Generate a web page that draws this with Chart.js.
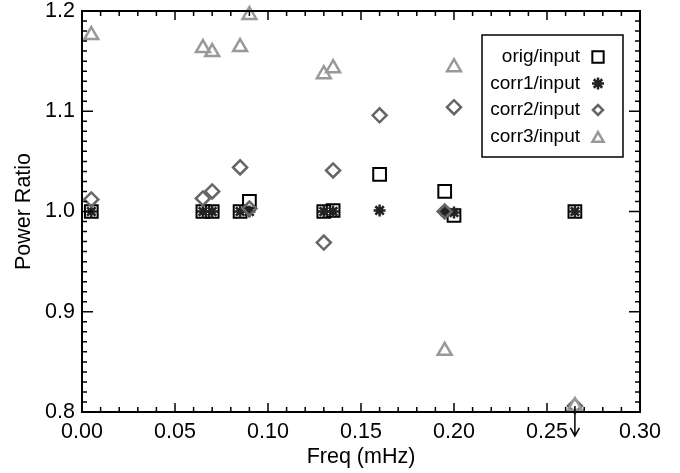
<!DOCTYPE html>
<html>
<head>
<meta charset="utf-8">
<script src="https://cdn.jsdelivr.net/npm/chart.js@4.4.1/dist/chart.umd.min.js"></script>
<style>
  html, body { margin: 0; padding: 0; background: #fff; }
  #wrap { width: 680px; height: 473px; }
</style>
</head>
<body>
<div id="wrap"><canvas id="chart-ratio" width="680" height="473"></canvas></div>
<script>
const freq = [0.005, 0.065, 0.070, 0.085, 0.090, 0.130, 0.135, 0.160, 0.195, 0.200, 0.265];
const origRatio  = [1.000, 1.000, 1.000, 1.000, 1.010, 1.000, 1.001, 1.037, 1.020, 0.996, 1.000];
const corr1Ratio = [1.000, 1.000, 1.000, 1.000, 1.000, 1.000, 1.000, 1.001, 1.000, 0.999, 1.000];
const corr2Ratio = [1.012, 1.013, 1.020, 1.044, 1.003, 0.969, 1.041, 1.096, 1.000, 1.104, 0.806];
const corr3Ratio = [1.176, 1.163, 1.159, 1.164, 1.196, 1.137, 1.143, null, 0.861, 1.144, 0.806];
const seriesLabels = ["orig/input", "corr1/input", "corr2/input", "corr3/input"];
// points that are upper limits (value below the plotted range)
const limitFreq = [0.265];
const limitRatio = [0.806];

const FONT = "'Liberation Sans', Arial, Helvetica, sans-serif";

function pts(ys) {
  return freq.map((f, i) => ({ x: f, y: ys[i] })).filter(p => p.y !== null);
}

// IDL-style frame: box on all four sides with inward major/minor ticks
const framePlugin = {
  id: "frame",
  afterDraw(chart) {
    const { ctx, chartArea: a, scales } = chart;
    const xs = scales.x, ys = scales.y;
    ctx.save();
    ctx.strokeStyle = "#000";
    ctx.lineWidth = 1.5;
    ctx.beginPath();
    for (let k = 0; k <= 30; k++) {
      const px = xs.getPixelForValue(k / 100);
      const len = k % 5 === 0 ? 9 : 5;
      ctx.moveTo(px, a.bottom); ctx.lineTo(px, a.bottom - len);
      ctx.moveTo(px, a.top); ctx.lineTo(px, a.top + len);
    }
    for (let k = 80; k <= 120; k++) {
      const py = ys.getPixelForValue(k / 100);
      const len = k % 10 === 0 ? 11 : 5;
      ctx.moveTo(a.left, py); ctx.lineTo(a.left + len, py);
      ctx.moveTo(a.right, py); ctx.lineTo(a.right - len, py);
    }
    ctx.stroke();
    ctx.lineWidth = 2;
    ctx.strokeRect(a.left, a.top, a.right - a.left, a.bottom - a.top);

    // upper-limit arrows
    ctx.lineWidth = 1.5;
    ctx.beginPath();
    limitFreq.forEach((f, i) => {
      const px = xs.getPixelForValue(f);
      const py = ys.getPixelForValue(limitRatio[i]);
      const tip = py + 30;
      ctx.moveTo(px, py); ctx.lineTo(px, tip);
      ctx.moveTo(px - 4.5, tip - 8); ctx.lineTo(px, tip); ctx.lineTo(px + 4.5, tip - 8);
    });
    ctx.stroke();
    ctx.restore();
  }
};

// boxed legend inside the plot, text left of the symbol
const legendPlugin = {
  id: "boxLegend",
  afterDraw(chart) {
    const ctx = chart.ctx;
    const box = { x: 482, y: 35, w: 141, h: 122 };
    const rowY = [57, 83.5, 110, 136.5];
    const sizes = [8, 6, 5, 6.5];
    ctx.save();
    ctx.fillStyle = "#fff";
    ctx.fillRect(box.x, box.y, box.w, box.h);
    ctx.strokeStyle = "#000";
    ctx.lineWidth = 1.5;
    ctx.strokeRect(box.x, box.y, box.w, box.h);
    ctx.font = "19px " + FONT;
    ctx.textAlign = "right";
    ctx.textBaseline = "middle";
    chart.data.datasets.forEach((ds, i) => {
      ctx.fillStyle = "#000";
      ctx.fillText(ds.label, 580, rowY[i]);
      ctx.strokeStyle = ds.borderColor;
      ctx.fillStyle = "rgba(0,0,0,0)";
      ctx.lineWidth = ds.borderWidth;
      Chart.helpers.drawPoint(ctx, {
        pointStyle: ds.pointStyle,
        radius: sizes[i],
        rotation: 0,
        borderWidth: ds.borderWidth
      }, 598, rowY[i] + (ds.pointStyle === "triangle" ? 2 : 0));
    });
    ctx.restore();
  }
};

new Chart(document.getElementById("chart-ratio"), {
  type: "scatter",
  data: {
    datasets: [
      { label: seriesLabels[0], data: pts(origRatio), pointStyle: "rect", pointRadius: 9,
        borderColor: "#000", backgroundColor: "rgba(0,0,0,0)", borderWidth: 2, order: 4, clip: false },
      { label: seriesLabels[1], data: pts(corr1Ratio), pointStyle: "star", pointRadius: 6,
        borderColor: "#222", backgroundColor: "rgba(0,0,0,0)", borderWidth: 2.5, order: 3, clip: false },
      { label: seriesLabels[2], data: pts(corr2Ratio), pointStyle: "rectRot", pointRadius: 7,
        borderColor: "#666", backgroundColor: "rgba(0,0,0,0)", borderWidth: 2.5, order: 2, clip: false },
      { label: seriesLabels[3], data: pts(corr3Ratio), pointStyle: "triangle", pointRadius: 8,
        borderColor: "#999", backgroundColor: "rgba(0,0,0,0)", borderWidth: 2.5, order: 1, clip: false }
    ]
  },
  options: {
    responsive: false,
    animation: false,
    devicePixelRatio: 1,
    layout: { padding: { top: 10, right: 40, left: 0, bottom: 0 } },
    plugins: { legend: { display: false }, tooltip: { enabled: false } },
    elements: { point: { hoverRadius: 0 } },
    scales: {
      x: {
        type: "linear", min: 0, max: 0.30,
        grid: { display: false, drawTicks: false },
        border: { display: false },
        ticks: {
          stepSize: 0.05, padding: 7, color: "#000",
          font: { family: FONT, size: 21.5 },
          callback: v => v.toFixed(2)
        },
        title: { display: true, text: "Freq (mHz)", color: "#000", padding: 3,
          font: { family: FONT, size: 21.5 } },
        afterFit(s) { s.height = 61; s.paddingLeft = 0; s.paddingRight = 0; }
      },
      y: {
        type: "linear", min: 0.8, max: 1.2,
        grid: { display: false, drawTicks: false },
        border: { display: false },
        ticks: {
          stepSize: 0.1, padding: 7, color: "#000",
          font: { family: FONT, size: 21.5 },
          callback: v => v.toFixed(1)
        },
        title: { display: true, text: "Power Ratio", color: "#000", padding: 11,
          font: { family: FONT, size: 21.5 } },
        afterFit(s) { s.width = 82; s.paddingTop = 0; s.paddingBottom = 0; }
      }
    }
  },
  plugins: [framePlugin, legendPlugin]
});
</script>
</body>
</html>
